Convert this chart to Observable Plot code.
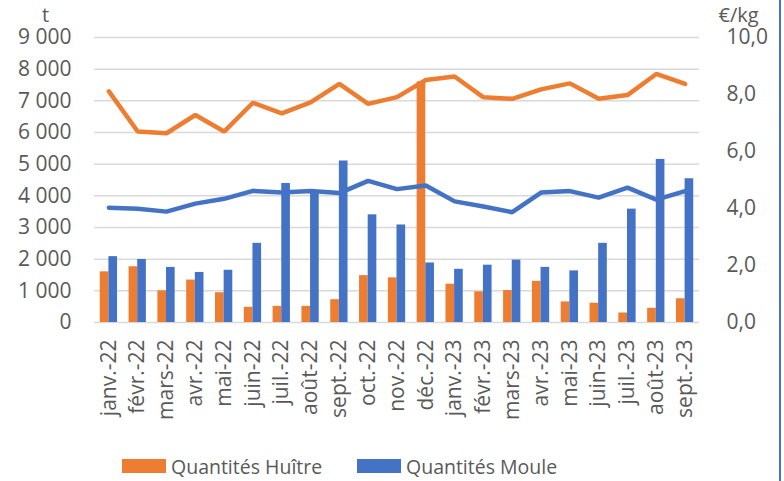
<!DOCTYPE html>
<html>
<head>
<meta charset="utf-8">
<script src="https://cdn.jsdelivr.net/npm/d3@7"></script>
<script src="https://cdn.jsdelivr.net/npm/@observablehq/plot@0.6"></script>
<style>
  html, body { margin: 0; padding: 0; background: #fff; }
  body { width: 784px; height: 481px; position: relative; overflow: hidden; font-family: "Open Sans", sans-serif; }
  #chart svg { display: block; }
  #border { position: absolute; left: 779px; top: 0; width: 2px; height: 481px; background: #4472C4; }
  #legend { position: absolute; top: 452px; left: 0; width: 784px; height: 28px; }
  .item { position: absolute; top: 0; display: flex; align-items: center; height: 28px; font-size: 19.5px; color: #595959; }
  .sw { width: 44px; height: 14px; margin-right: 5px; }
</style>
</head>
<body>
<div id="chart"></div>
<div id="legend">
  <div class="item" style="left:122px"><div class="sw" style="background:#ED7D31"></div>Quantités Huître</div>
  <div class="item" style="left:357px"><div class="sw" style="background:#4472C4"></div>Quantités Moule</div>
</div>
<div id="border"></div>
<script>
const months = ["janv.-22","févr.-22","mars-22","avr.-22","mai-22","juin-22","juil.-22","août-22","sept.-22","oct.-22","nov.-22","déc.-22","janv.-23","févr.-23","mars-23","avr.-23","mai-23","juin-23","juil.-23","août-23","sept.-23"];
const qtyHuitre = [1600,1760,1000,1340,940,480,510,510,720,1480,1410,7600,1210,970,1010,1300,650,610,300,450,750];
const qtyMoule = [2080,1990,1740,1580,1650,2500,4390,4150,5100,3400,3080,1880,1680,1810,1970,1740,1630,2500,3580,5150,4540];
const prixHuitre = [8.11,6.70,6.64,7.28,6.70,7.71,7.34,7.72,8.37,7.67,7.91,8.51,8.63,7.90,7.85,8.18,8.39,7.85,7.98,8.72,8.37];
const prixMoule = [4.03,3.99,3.89,4.17,4.34,4.62,4.56,4.61,4.54,4.97,4.68,4.81,4.25,4.07,3.87,4.56,4.61,4.38,4.73,4.31,4.61];
const leftTicks = [0,1000,2000,3000,4000,5000,6000,7000,8000,9000];
const rightTicks = [0,2,4,6,8,10];

const orange = "#ED7D31", blue = "#4472C4", grey = "#595959";
const k = 900; // 10 €/kg <-> 9000 t

const rows = months.map((m, i) => ({m, qh: qtyHuitre[i], qm: qtyMoule[i], ph: prixHuitre[i] * k, pm: prixMoule[i] * k}));
const fmtT = d => d === 0 ? "0" : d3.format(",")(d).replace(/,/g, " ");
const fmtP = d => (d / k).toFixed(1).replace(".", ",");

const step = 605 / 21;
const half = step * 0.6 / 2;
const chart = Plot.plot({
  width: 784,
  height: 452,
  marginLeft: 94,
  marginRight: 85,
  marginTop: 37,
  marginBottom: 130,
  style: {fontFamily: "'Open Sans', sans-serif", fontSize: "21px", color: grey, background: "#fff"},
  x: {type: "band", domain: months, paddingInner: 0.4, paddingOuter: 0.2, align: 0.5, round: false},
  y: {domain: [0, 9000]},
  marks: [
    Plot.ruleY(leftTicks, {stroke: "#d9d9d9", strokeWidth: 1.5}),
    Plot.barY(rows, {x: "m", y: "qh", fill: orange, insetRight: half}),
    Plot.barY(rows, {x: "m", y: "qm", fill: blue, insetLeft: half}),
    Plot.line(rows, {x: "m", y: "ph", stroke: orange, strokeWidth: 4.5, strokeLinejoin: "miter", strokeLinecap: "round"}),
    Plot.line(rows, {x: "m", y: "pm", stroke: blue, strokeWidth: 4.5, strokeLinejoin: "miter", strokeLinecap: "round"}),
    Plot.axisY({anchor: "left", ticks: leftTicks, tickFormat: fmtT, tickSize: 0, tickPadding: 23, label: null, fill: grey, fontSize: 21}),
    Plot.axisY({anchor: "right", ticks: rightTicks.map(d => d * k), tickFormat: fmtP, tickSize: 0, tickPadding: 27, label: null, fill: grey, fontSize: 21}),
    Plot.axisX({tickRotate: -90, tickSize: 0, tickPadding: 17, label: null, fill: grey, fontSize: 21}),
    Plot.text(["t"], {frameAnchor: "top-left", dx: -49, dy: -30, fill: grey, fontSize: 20, textAnchor: "middle"}),
    Plot.text(["€/kg"], {frameAnchor: "top-right", dx: 19, dy: -30, fill: grey, fontSize: 20, textAnchor: "start"})
  ]
});
document.getElementById("chart").appendChild(chart);
</script>
</body>
</html>
